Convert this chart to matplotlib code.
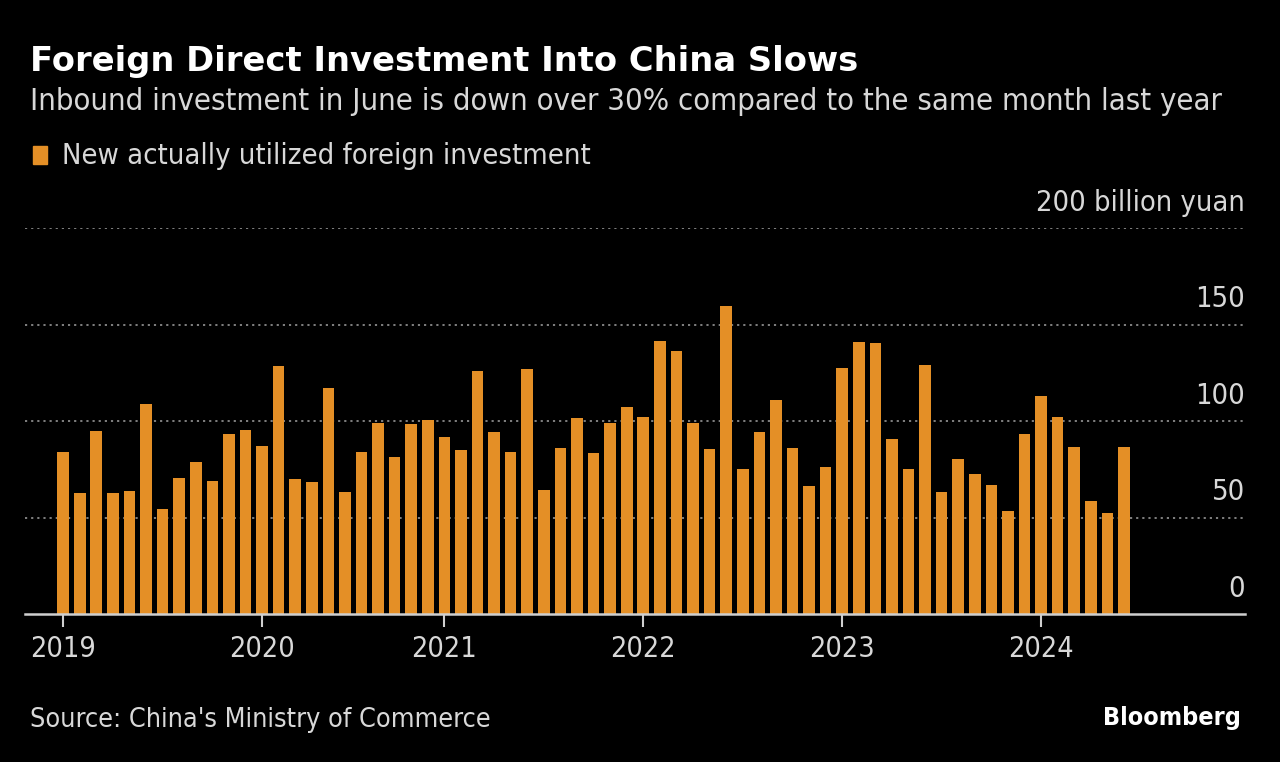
import matplotlib.pyplot as plt
import matplotlib.transforms as mtransforms

# monthly data, billion yuan (one 2020 month is not reported separately)
months = ["2019-01", "2019-02", "2019-03", "2019-04", "2019-05", "2019-06",
          "2019-07", "2019-08", "2019-09", "2019-10", "2019-11", "2019-12",
          "2020-01", "2020-03", "2020-04", "2020-05", "2020-06", "2020-07",
          "2020-08", "2020-09", "2020-10", "2020-11", "2020-12",
          "2021-01", "2021-02", "2021-03", "2021-04", "2021-05", "2021-06",
          "2021-07", "2021-08", "2021-09", "2021-10", "2021-11", "2021-12",
          "2022-01", "2022-02", "2022-03", "2022-04", "2022-05", "2022-06",
          "2022-07", "2022-08", "2022-09", "2022-10", "2022-11", "2022-12",
          "2023-01", "2023-02", "2023-03", "2023-04", "2023-05", "2023-06",
          "2023-07", "2023-08", "2023-09", "2023-10", "2023-11", "2023-12",
          "2024-01", "2024-02", "2024-03", "2024-04", "2024-05", "2024-06"]
fdi = [84, 62.6, 95, 62.6, 63.5, 109, 54.5, 70.6, 78.8, 69, 93.3, 95.2,
       87.3, 128.5, 70, 68.3, 117, 63.1, 84, 99, 81.6, 98.7, 100.4,
       91.6, 84.9, 125.9, 94.5, 83.9, 127, 64.2, 85.8, 101.4, 83.5, 99.2, 107.1,
       102.1, 141.5, 136.3, 99, 85.4, 159.4, 74.9, 94.4, 111.1, 86.1, 66.1, 76.4,
       127.7, 141, 140.3, 90.9, 75.2, 128.9, 63, 80.2, 72.6, 66.9, 53.2, 93.5,
       112.7, 102.3, 86.4, 58.3, 52.1, 86.3]
y_ticks = [0, 50, 100, 150]

BG = "#000000"
ORANGE = "#E48F26"
LIGHT = "#D8D8D8"
TXT = dict(family="DejaVu Sans", fontstretch="condensed")

fig = plt.figure(figsize=(12.8, 7.62), dpi=100, facecolor=BG)
ax = fig.add_axes([25 / 1280, 148 / 762, 1220 / 1280, 386 / 762])
ax.set_facecolor(BG)

x = list(range(len(fdi)))
ax.bar(x, fdi, width=0.7, color=ORANGE, zorder=3)

ax.set_xlim(-2.3, 71.3)
ax.set_ylim(0, 200)

# dotted grid + labels sitting above each line
trans = mtransforms.blended_transform_factory(ax.transAxes, ax.transData)
for v in y_ticks[1:] + [200]:
    ax.axhline(v, color="#8a8a8a", linestyle=(0, (1.2, 2.2)), linewidth=1.3, zorder=1)
for v in y_ticks:
    ax.annotate(str(v), xy=(1.0, v), xycoords=trans, xytext=(0, 8),
                textcoords="offset points", ha="right", va="bottom",
                color=LIGHT, fontsize=20.8, **TXT)
ax.annotate("200 billion yuan", xy=(1.0, 200), xycoords=trans, xytext=(0, 8),
            textcoords="offset points", ha="right", va="bottom",
            color=LIGHT, fontsize=20.8, **TXT)

year_pos = [i for i, m in enumerate(months) if m.endswith("-01")]
year_lab = [months[i][:4] for i in year_pos]
ax.set_xticks(year_pos)
ax.set_xticklabels(year_lab, color=LIGHT, fontsize=20.6, **TXT)
ax.tick_params(axis="x", colors="#cfcfcf", length=9, width=1.5, pad=6, labelcolor=LIGHT)
ax.set_yticks([])

for s in ["top", "left", "right"]:
    ax.spines[s].set_visible(False)
ax.spines["bottom"].set_color("#cfcfcf")
ax.spines["bottom"].set_linewidth(1.8)
ax.spines["bottom"].set_zorder(4)

fig.text(30 / 1280, 1 - 62 / 762, "Foreign Direct Investment Into China Slows",
         color="white", fontsize=24.3, fontweight="bold", family="DejaVu Sans",
         va="center", ha="left")
fig.text(30 / 1280, 1 - 101 / 762,
         "Inbound investment in June is down over 30% compared to the same month last year",
         color=LIGHT, fontsize=22.2, va="center", ha="left", **TXT)
fig.patches.append(plt.Rectangle((33 / 1280, 1 - 164 / 762), 14 / 1280, 18 / 762,
                                 transform=fig.transFigure, color=ORANGE, figure=fig))
fig.text(62 / 1280, 1 - 156 / 762, "New actually utilized foreign investment",
         color=LIGHT, fontsize=20.9, va="center", ha="left", **TXT)
fig.text(30 / 1280, 1 - 720 / 762, "Source: China's Ministry of Commerce",
         color=LIGHT, fontsize=19.4, va="center", ha="left", **TXT)
fig.text(1241 / 1280, 1 - 718 / 762, "Bloomberg", color="white", fontsize=18,
         fontweight="bold", va="center", ha="right", **TXT)

fig.savefig("out.png", dpi=100, facecolor=BG)
